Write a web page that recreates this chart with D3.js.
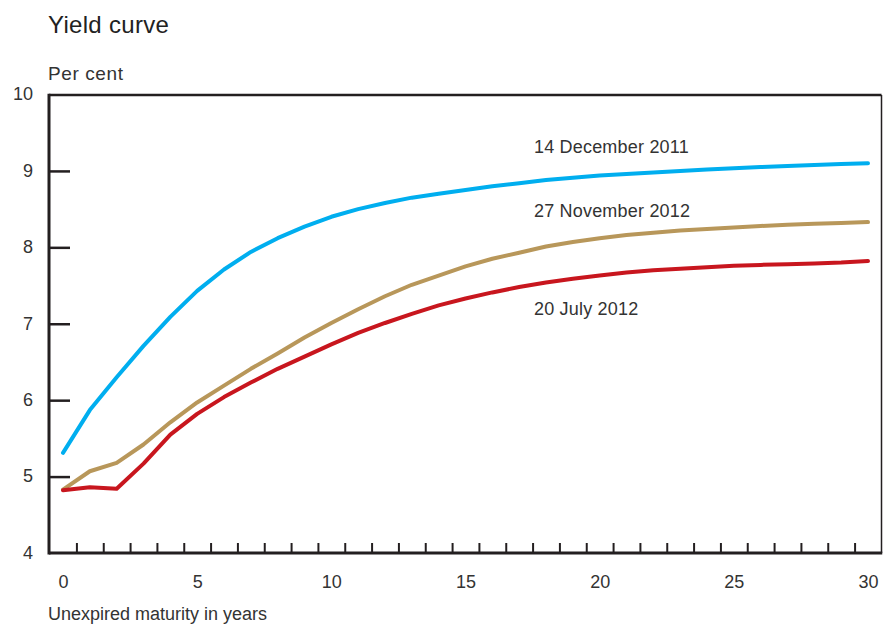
<!DOCTYPE html>
<html>
<head>
<meta charset="utf-8">
<script src="https://cdn.jsdelivr.net/npm/d3@7"></script>
<style>
  html, body { margin: 0; padding: 0; background: #fff; }
  svg { display: block; font-family: "Liberation Sans", Arial, Helvetica, sans-serif; }
</style>
</head>
<body>
<svg id="chart" width="883" height="624"></svg>
<script>
// ---- Data ----
const maturities = d3.range(0, 31); // years 0..30
const dec2011 = [5.31, 5.87, 6.30, 6.71, 7.09, 7.43, 7.71, 7.94, 8.12, 8.27, 8.40, 8.50, 8.58, 8.65, 8.70, 8.75, 8.80, 8.84, 8.88, 8.91, 8.94, 8.96, 8.98, 9.00, 9.02, 9.035, 9.05, 9.065, 9.078, 9.09, 9.10];
const nov2012 = [4.83, 5.07, 5.18, 5.42, 5.71, 5.97, 6.19, 6.41, 6.61, 6.82, 7.01, 7.19, 7.36, 7.51, 7.63, 7.75, 7.85, 7.93, 8.01, 8.07, 8.12, 8.16, 8.19, 8.22, 8.24, 8.26, 8.28, 8.295, 8.31, 8.32, 8.33];
const jul2012 = [4.82, 4.86, 4.84, 5.17, 5.55, 5.82, 6.04, 6.23, 6.41, 6.57, 6.73, 6.88, 7.01, 7.13, 7.24, 7.33, 7.41, 7.48, 7.54, 7.59, 7.63, 7.67, 7.70, 7.72, 7.74, 7.76, 7.77, 7.78, 7.79, 7.80, 7.82];
const seriesNames = ["14 December 2011", "27 November 2012", "20 July 2012"];
const seriesColors = ["#00aeef", "#b8975a", "#c8161e"];
const xTickLabels = [0, 5, 10, 15, 20, 25, 30];
const yTickLabels = [4, 5, 6, 7, 8, 9, 10];
const titleText = "Yield curve";
const yUnitText = "Per cent";
const xAxisText = "Unexpired maturity in years";

// ---- Layout ----
const svg = d3.select("#chart");
const frame = { left: 49, right: 881.5, top: 95, bottom: 553 };
const x = d3.scaleLinear().domain([0, 30]).range([63, 868]);
const y = d3.scaleLinear().domain([4, 10]).range([553, 94.5]);
const ink = "#231f20";
const textCol = "#333";

// Title and unit
svg.append("text").attr("x", 48).attr("y", 33).attr("font-size", 24).attr("letter-spacing", 0.3).attr("fill", "#222").text(titleText);
svg.append("text").attr("x", 48).attr("y", 80).attr("font-size", 19).attr("letter-spacing", 0.6).attr("fill", textCol).text(yUnitText);
svg.append("text").attr("x", 48).attr("y", 620).attr("font-size", 18).attr("fill", textCol).text(xAxisText);

// Lines
const line = d3.line().x((d, i) => x(maturities[i])).y(d => y(d));
const allSeries = [dec2011, nov2012, jul2012];
svg.append("g").selectAll("path").data(allSeries).join("path")
  .attr("d", line)
  .attr("fill", "none")
  .attr("stroke", (d, i) => seriesColors[i])
  .attr("stroke-width", 4)
  .attr("stroke-linecap", "round")
  .attr("stroke-linejoin", "round");

// Series labels
const labelPos = [{ yr: 17.55, v: 9.234 }, { yr: 17.55, v: 8.40 }, { yr: 17.55, v: 7.114 }];
svg.append("g").selectAll("text").data(seriesNames).join("text")
  .attr("x", (d, i) => x(labelPos[i].yr))
  .attr("y", (d, i) => y(labelPos[i].v))
  .attr("font-size", 18)
  .attr("letter-spacing", 0.2)
  .attr("fill", textCol)
  .text(d => d);

// Y axis: inner ticks, labels on left
const yAxis = d3.axisLeft(y).tickValues(yTickLabels).tickSize(-21).tickFormat(d3.format("d"));
const gy = svg.append("g").attr("transform", `translate(${frame.left},0)`).call(yAxis);
gy.select(".domain").remove();
gy.selectAll(".tick line").attr("stroke", ink).attr("stroke-width", 2.5)
  .filter(d => d === 4 || d === 10).remove();
gy.selectAll(".tick text").attr("font-size", 18).attr("fill", textCol)
  .attr("font-family", "Liberation Sans, Arial, sans-serif").attr("dy", "0.3em").attr("x", -16);

// X axis: minor ticks at half-years (between labels), labels at every 5
const xMinor = d3.axisBottom(x).tickValues(d3.range(0.5, 30, 1)).tickSize(-10).tickFormat("");
const gxm = svg.append("g").attr("transform", `translate(0,${frame.bottom})`).call(xMinor);
gxm.select(".domain").remove();
gxm.selectAll(".tick line").attr("stroke", ink).attr("stroke-width", 2);

const xLab = d3.axisBottom(x).tickValues(xTickLabels).tickSize(0).tickPadding(22).tickFormat(d3.format("d"));
const gxl = svg.append("g").attr("transform", `translate(0,${frame.bottom})`).call(xLab);
gxl.select(".domain").remove();
gxl.selectAll(".tick text").attr("font-size", 18).attr("fill", textCol)
  .attr("font-family", "Liberation Sans, Arial, sans-serif");

// Frame
svg.append("line").attr("x1", frame.left).attr("x2", frame.right).attr("y1", frame.top).attr("y2", frame.top)
  .attr("stroke", ink).attr("stroke-width", 2.5);
svg.append("line").attr("x1", frame.right).attr("x2", frame.right).attr("y1", frame.top).attr("y2", frame.bottom)
  .attr("stroke", ink).attr("stroke-width", 1.5);
svg.append("line").attr("x1", frame.left).attr("x2", frame.right + 0.75).attr("y1", frame.bottom).attr("y2", frame.bottom)
  .attr("stroke", ink).attr("stroke-width", 3);
svg.append("line").attr("x1", frame.left).attr("x2", frame.left).attr("y1", frame.top - 1.25).attr("y2", frame.bottom + 1.5)
  .attr("stroke", ink).attr("stroke-width", 3);
</script>
</body>
</html>
